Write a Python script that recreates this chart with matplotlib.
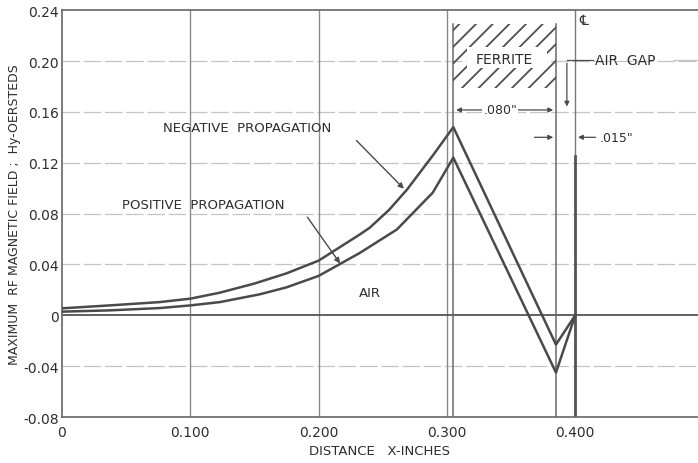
import matplotlib.pyplot as plt
from matplotlib.patches import Rectangle

plt.rcParams["hatch.linewidth"] = 1.3

# field profile (x in inches, H in oersteds)
x_neg = [0.0, 0.037, 0.076, 0.100, 0.123, 0.150, 0.175, 0.200, 0.232, 0.240, 0.255, 0.269, 0.290, 0.305]
neg_air = [0.0055, 0.0078, 0.0104, 0.0131, 0.0178, 0.025, 0.033, 0.043, 0.0635, 0.069, 0.083, 0.099, 0.127, 0.148]
x_pos = [0.0, 0.037, 0.076, 0.100, 0.123, 0.154, 0.175, 0.200, 0.232, 0.261, 0.289, 0.305]
pos_air = [0.0029, 0.0039, 0.0057, 0.0078, 0.0104, 0.0165, 0.022, 0.031, 0.049, 0.0675, 0.0965, 0.124]

x_fer = [0.385, 0.400]
neg_fer = [-0.023, 0.0]
pos_fer = [-0.045, 0.0]

yticks = [-0.08, -0.04, 0, 0.04, 0.08, 0.12, 0.16, 0.20, 0.24]
ylabels = ["-0.08", "-0.04", "0", "0.04", "0.08", "0.12", "0.16", "0.20", "0.24"]
xticks = [0, 0.1, 0.2, 0.3, 0.4]
xlabels = ["0", "0.100", "0.200", "0.300", "0.400"]

ferrite = (0.305, 0.385)
gap_end = 0.400

ink = "#2e2e2e"
line_c = "#4a4a4a"

fig = plt.figure(figsize=(6.98, 4.64), dpi=100)
ax = fig.add_axes([0.0888, 0.099, 0.9112, 0.877])

ax.set_xlim(0, 0.4957)
ax.set_ylim(-0.08, 0.24)

# grid
for y in yticks[1:-1]:
    if y == 0:
        ax.axhline(0, color="#555555", lw=1.3, zorder=2)
    else:
        ax.axhline(y, color="#c4c4c4", lw=0.9, ls=(0, (14, 3)), zorder=1)
for x in xticks[1:4]:
    ax.axvline(x, color="#8a8a8a", lw=1.0, zorder=1)

# ferrite slab boundaries and centre line
ax.plot([ferrite[0]] * 2, [-0.08, 0.229], color="#6a6a6a", lw=1.1)
ax.plot([ferrite[1]] * 2, [-0.08, 0.229], color="#6a6a6a", lw=1.1)
ax.axvline(gap_end, color="#7a7a7a", lw=1.0)
ax.plot([gap_end] * 2, [-0.08, 0.125], color="#555555", lw=2.0)

# hatched ferrite block with a clear band for the label
ax.add_patch(Rectangle((ferrite[0], 0.179), ferrite[1] - ferrite[0], 0.05,
                       fill=False, hatch="//", edgecolor="#505050", lw=0, zorder=2))
ax.add_patch(Rectangle((0.3157, 0.1945), 0.0623, 0.0165,
                       facecolor="white", edgecolor="none", zorder=3))
ax.text(sum(ferrite) / 2, 0.2015, "FERRITE", ha="center", va="center",
        fontsize=10, color=ink, zorder=4)

# curves
ax.plot(x_neg + x_fer, neg_air + neg_fer, color=line_c, lw=1.8, zorder=4)
ax.plot(x_pos + x_fer, pos_air + pos_fer, color=line_c, lw=1.8, zorder=4)

# labels on curves
arr = dict(arrowstyle="-|>", color=line_c, lw=1.0, mutation_scale=8)
ax.annotate("", xy=(0.268, 0.098), xytext=(0.228, 0.139), arrowprops=arr)
ax.text(0.079, 0.148, "NEGATIVE  PROPAGATION", fontsize=9.5, color=ink, va="center")
ax.annotate("", xy=(0.218, 0.039), xytext=(0.19, 0.079), arrowprops=arr)
ax.text(0.047, 0.087, "POSITIVE  PROPAGATION", fontsize=9.5, color=ink, va="center")
ax.text(0.240, 0.018, "AIR", fontsize=9.5, color=ink, ha="center", va="center")

# dimension marks
dim = dict(arrowstyle="<|-|>", color=line_c, lw=0.9, mutation_scale=7)
ax.annotate("", xy=(ferrite[0], 0.1615), xytext=(ferrite[1], 0.1615), arrowprops=dim)
ax.text(0.3415, 0.1615, ".080\"", fontsize=9, color=ink, ha="center", va="center",
        bbox=dict(facecolor="white", edgecolor="none", pad=1))
one = dict(arrowstyle="-|>", color=line_c, lw=0.9, mutation_scale=7)
ax.annotate("", xy=(ferrite[1], 0.140), xytext=(0.366, 0.140), arrowprops=one)
ax.annotate("", xy=(gap_end, 0.140), xytext=(0.418, 0.140), arrowprops=one)
ax.text(0.419, 0.140, ".015\"", fontsize=9, color=ink, va="center")

# air gap callout
ax.plot([0.4135, 0.3935], [0.2005, 0.2005], color=line_c, lw=0.9)
ax.annotate("", xy=(0.3935, 0.162), xytext=(0.3935, 0.2005), arrowprops=one)
ax.text(0.4155, 0.2005, "AIR  GAP", fontsize=10, color=ink, va="center")
ax.plot([0.477, 0.4957], [0.2005, 0.2005], color="#c4c4c4", lw=0.9)
ax.text(0.4065, 0.232, "\u2104", fontsize=10, color=ink, ha="center", va="center")

ax.set_yticks(yticks)
ax.set_yticklabels(ylabels)
ax.set_xticks(xticks)
ax.set_xticklabels(xlabels)
ax.tick_params(length=0, labelsize=10, labelcolor=ink, pad=6)
ax.tick_params(axis="y", pad=2)
ax.spines["right"].set_visible(False)
for s in ["left", "top", "bottom"]:
    ax.spines[s].set_color("#666666")
    ax.spines[s].set_linewidth(1.2)

ax.set_ylabel("MAXIMUM  RF MAGNETIC FIELD ;  Hy-OERSTEDS", fontsize=9, color=ink, labelpad=2)
ax.set_xlabel("DISTANCE   X-INCHES", fontsize=9.5, color=ink, labelpad=3)

fig.savefig("out.png", dpi=100)
